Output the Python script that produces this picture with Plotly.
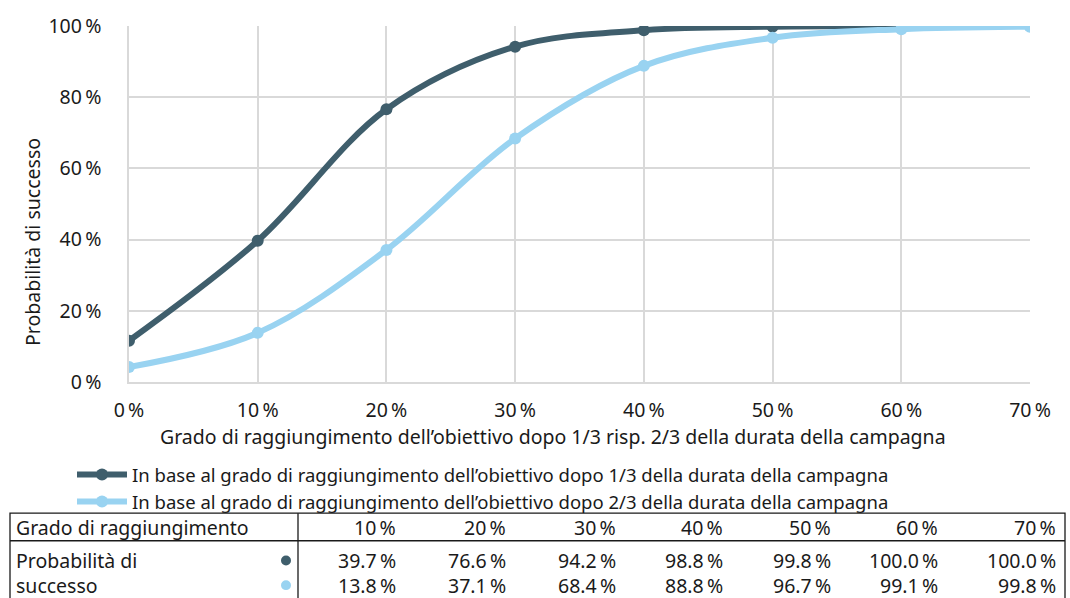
import plotly.graph_objects as go

# ---- data ----
x_levels = [0, 10, 20, 30, 40, 50, 60, 70]
prob_one_third = [11.6, 39.7, 76.6, 94.2, 98.8, 99.8, 100.0, 100.0]
prob_two_thirds = [4.2, 13.8, 37.1, 68.4, 88.8, 96.7, 99.1, 99.8]
y_ticks = [0, 20, 40, 60, 80, 100]
series_names = [
    "In base al grado di raggiungimento dell\u2019obiettivo dopo 1/3 della durata della campagna",
    "In base al grado di raggiungimento dell\u2019obiettivo dopo 2/3 della durata della campagna",
]
table_levels = ["10\u202f%", "20\u202f%", "30\u202f%", "40\u202f%", "50\u202f%", "60\u202f%", "70\u202f%"]
table_one_third = ["39.7\u202f%", "76.6\u202f%", "94.2\u202f%", "98.8\u202f%", "99.8\u202f%", "100.0\u202f%", "100.0\u202f%"]
table_two_thirds = ["13.8\u202f%", "37.1\u202f%", "68.4\u202f%", "88.8\u202f%", "96.7\u202f%", "99.1\u202f%", "99.8\u202f%"]
x_title = "Grado di raggiungimento dell\u2019obiettivo dopo 1/3 risp. 2/3 della durata della campagna"
y_title = "Probabilit\u00e0 di successo"

DARK = "#3f5e6c"
LIGHT = "#99d3f1"
FONT = "Noto Sans"
FS = 19.5
W, H = 1070, 598
L, R, T, B = 129, 1030, 21, 382

def px(x):
    return (x - L) / (R - L)

def py(y):
    return (B - y) / (B - T)

fig = go.Figure()
for vals, col, name in [(prob_one_third, DARK, series_names[0]), (prob_two_thirds, LIGHT, series_names[1])]:
    fig.add_trace(go.Scatter(
        x=x_levels, y=vals, name=name, mode="lines+markers",
        line=dict(color=col, width=6, shape="spline", smoothing=1.0),
        marker=dict(color=col, size=12),
    ))

fig.update_layout(
    width=W, height=H,
    margin=dict(l=L, r=W - R, t=T, b=H - B),
    paper_bgcolor="white", plot_bgcolor="white",
    font=dict(family=FONT, size=FS, color="#1a1a1a"),
    showlegend=True,
    legend=dict(x=px(72), y=py(457), xanchor="left", yanchor="top",
                font=dict(size=18.5), tracegroupgap=0, itemwidth=50,
                bgcolor="rgba(0,0,0,0)"),
    xaxis=dict(range=[0, 70], tickvals=x_levels,
               ticktext=[f"{v}\u202f%" for v in x_levels],
               showgrid=True, gridcolor="#d9d9d9", gridwidth=1.5,
               zeroline=False, showline=True, linecolor="#d9d9d9", linewidth=1.5,
               ticks="", ticklabelstandoff=10, fixedrange=True),
    yaxis=dict(range=[0, 100], tickvals=y_ticks,
               ticktext=[f"{v}\u202f%" for v in y_ticks],
               showgrid=True, gridcolor="#d9d9d9", gridwidth=1.5,
               zeroline=False, showline=True, linecolor="#d9d9d9", linewidth=1.5,
               ticks="", ticklabelstandoff=22, fixedrange=True),
)

ann = []
ann.append(dict(text=x_title, x=px(553), y=py(437), xref="paper", yref="paper",
                showarrow=False, xanchor="center", yanchor="middle", font=dict(size=FS)))
ann.append(dict(text=y_title, x=px(33), y=py(240), xref="paper", yref="paper",
                showarrow=False, textangle=-90, xanchor="center", yanchor="middle", font=dict(size=FS)))

# ---- table ----
col_right = [398, 508, 618, 725, 833, 940, 1058]
row_y = [530, 563, 588]
for txt, ry in [("Grado di raggiungimento", row_y[0]), ("Probabilit\u00e0 di", row_y[1]), ("successo", row_y[2])]:
    ann.append(dict(text=txt, x=px(14), y=py(ry), xref="paper", yref="paper",
                    showarrow=False, xanchor="left", yanchor="middle", font=dict(size=FS)))
for i, cx in enumerate(col_right):
    for ry, txt in zip(row_y, [table_levels[i], table_one_third[i], table_two_thirds[i]]):
        ann.append(dict(text=txt, x=px(cx), y=py(ry), xref="paper", yref="paper",
                        showarrow=False, xanchor="right", yanchor="middle", font=dict(size=FS)))

shapes = []
line_k = dict(color="#1a1a1a", width=1.3)
shapes.append(dict(type="rect", xref="paper", yref="paper", x0=px(10), x1=px(1065),
                   y0=py(515), y1=py(620), line=line_k))
shapes.append(dict(type="line", xref="paper", yref="paper", x0=px(10), x1=px(1065),
                   y0=py(543), y1=py(543), line=line_k))
shapes.append(dict(type="line", xref="paper", yref="paper", x0=px(298), x1=px(298),
                   y0=py(515), y1=py(620), line=line_k))
for ry, col in [(row_y[1], DARK), (row_y[2], LIGHT)]:
    shapes.append(dict(type="circle", xref="paper", yref="paper",
                       x0=px(281), x1=px(291), y0=py(ry - 5), y1=py(ry + 5),
                       fillcolor=col, line=dict(width=0)))

fig.update_layout(annotations=ann, shapes=shapes)
fig.write_html("out.html", config={"displayModeBar": False},
               post_script="document.body.style.margin='0';document.body.style.overflow='hidden';")
